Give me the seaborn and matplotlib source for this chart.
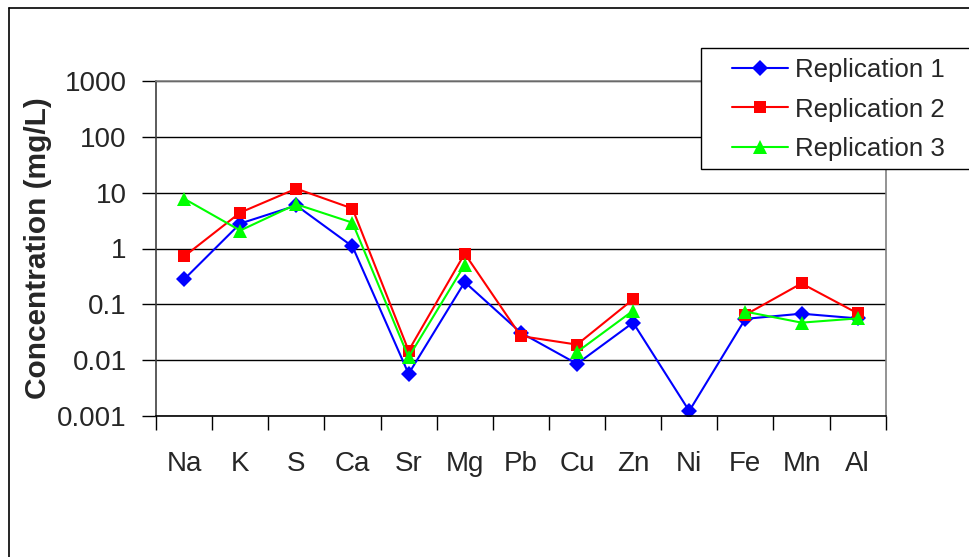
import numpy as np
import pandas as pd
import matplotlib
matplotlib.use("Agg")
import matplotlib.pyplot as plt
from matplotlib.lines import Line2D
from matplotlib.patches import Rectangle
import seaborn as sns

# ---- data ----
elements = ['Na', 'K', 'S', 'Ca', 'Sr', 'Mg', 'Pb', 'Cu', 'Zn', 'Ni', 'Fe', 'Mn', 'Al']
rep1 = [0.28, 2.8, 5.9, 1.09, 0.0057, 0.25, 0.031, 0.0086, 0.047, 0.00123, 0.055, 0.068, 0.056]
rep2 = [0.72, 4.4, 11.8, 5.2, 0.0148, 0.81, 0.027, 0.019, 0.123, np.nan, 0.065, 0.237, 0.069]
rep3 = [7.8, 2.1, 6.2, 2.9, 0.0113, 0.51, np.nan, 0.014, 0.077, np.nan, 0.074, 0.047, 0.056]
series_names = ['Replication 1', 'Replication 2', 'Replication 3']
ytick_vals = [0.001, 0.01, 0.1, 1, 10, 100, 1000]
ytick_labels = ['0.001', '0.01', '0.1', '1', '10', '100', '1000']
ylabel = 'Concentration (mg/L)'

sns.set_style('white')
plt.rcParams['font.family'] = ['Liberation Sans', 'DejaVu Sans']

W, H = 969, 557
fig = plt.figure(figsize=(W / 100, H / 100), dpi=100)
ax = fig.add_axes([156 / W, 1 - 416 / H, 729.7 / W, 335 / H])

styles = [
    dict(color='#0000FF', marker='D', markersize=8.5),
    dict(color='#FF0000', marker='s', markersize=8.5),
    dict(color='#00FF00', marker='^', markersize=10),
]

pos = np.arange(len(elements))
for name, vals, st in zip(series_names, [rep1, rep2, rep3], styles):
    df = pd.DataFrame({'pos': pos, 'value': vals})
    # split into contiguous non-missing segments (lines break at gaps)
    df['seg'] = df['value'].isna().cumsum()
    df = df.dropna()
    for _, seg in df.groupby('seg'):
        sns.lineplot(data=seg, x='pos', y='value', ax=ax, color=st['color'],
                     marker=st['marker'], markersize=st['markersize'],
                     markeredgecolor=st['color'], markeredgewidth=0,
                     linewidth=1.5, legend=False, estimator=None, sort=False)

ax.set_yscale('log')
ax.set_ylim(0.001, 1000)
ax.set_xlim(-0.5, len(elements) - 0.5)

ax.yaxis.set_major_locator(matplotlib.ticker.FixedLocator(ytick_vals))
ax.yaxis.set_major_formatter(matplotlib.ticker.FixedFormatter(ytick_labels))
ax.yaxis.set_minor_locator(matplotlib.ticker.NullLocator())
ax.tick_params(axis='y', which='major', direction='out', length=10, width=1,
               color='black', labelsize=20, pad=11, left=True)

ax.set_xticks(np.arange(-0.5, len(elements), 1.0))
ax.set_xticklabels([])
ax.set_xticks(pos, minor=True)
ax.set_xticklabels(elements, minor=True)
ax.tick_params(axis='x', which='major', direction='out', length=10, width=1,
               color='black', bottom=True)
ax.tick_params(axis='x', which='minor', length=0, labelsize=20, pad=25)

ax.yaxis.grid(True, which='major', color='black', linewidth=1)
ax.xaxis.grid(False)
ax.set_axisbelow(True)
ax.set_xlabel('')
ax.set_ylabel(ylabel, fontsize=21.5, fontweight='bold')
ax.yaxis.set_label_coords(-0.1425, 0.5)

for side in ['top', 'right']:
    ax.spines[side].set_color('#808080')
    ax.spines[side].set_linewidth(1.2)
ax.spines['left'].set_color('#404040')
ax.spines['bottom'].set_color('black')
for side in ['left', 'bottom']:
    ax.spines[side].set_linewidth(1.2)

# outer chart frame
fig.add_artist(Line2D([8.5 / W, 8.5 / W], [-0.1, 1 - 7.5 / H], color='black',
                      linewidth=1.2, transform=fig.transFigure))
fig.add_artist(Line2D([8.5 / W, 1.1], [1 - 7.5 / H, 1 - 7.5 / H], color='black',
                      linewidth=1.2, transform=fig.transFigure))

# legend box
box = Rectangle((701 / W, 1 - 169 / H), (975 - 701) / W, (169 - 48) / H,
                transform=fig.transFigure, facecolor='white', edgecolor='black',
                linewidth=1, zorder=3)
fig.add_artist(box)
handles = [Line2D([], [], color=st['color'], marker=st['marker'],
                  markersize=st['markersize'], markeredgewidth=0, linewidth=1.5)
           for st in styles]
leg = fig.legend(handles, series_names, loc='upper left',
                 bbox_to_anchor=(732 / W, 1 - 58 / H), frameon=False,
                 fontsize=18.6, handlelength=2.17, handletextpad=0.27,
                 labelspacing=0.6, borderpad=0, borderaxespad=0)
leg.set_zorder(5)

fig.savefig('out.png', dpi=100)
